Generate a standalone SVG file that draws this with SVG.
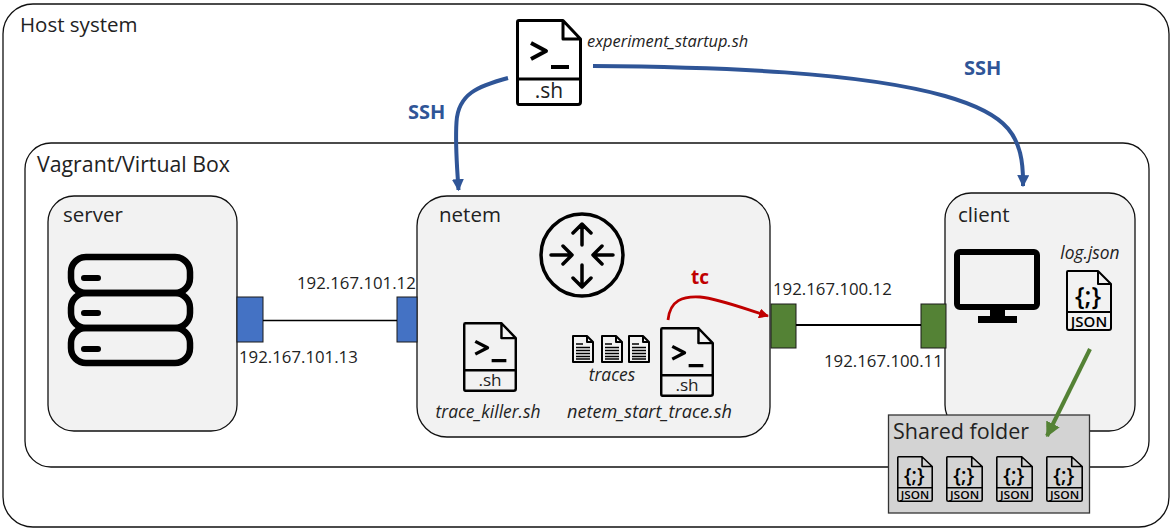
<svg xmlns="http://www.w3.org/2000/svg" width="1172" height="529" viewBox="0 0 1172 529">
<style>
text{font-family:"Open Sans","Noto Sans","Liberation Sans",sans-serif;fill:#222}
.t{font-size:20.5px}.ip{font-size:16.8px}.i{font-style:italic;font-size:17.4px}
.box{stroke:#111;stroke-width:1.3}
.vm{fill:#f2f2f2}
.ln{fill:none;stroke:#000;stroke-linecap:round;stroke-linejoin:round}
.ssh{fill:none;stroke:#2f5597;stroke-width:4}
.lbl{font-size:20px;font-weight:700;fill:#2f5597}
.port{stroke:#1a1a1a;stroke-width:1}
</style>
<defs>
<marker id="ab" markerWidth="12" markerHeight="12" refX="9" refY="5" orient="auto" markerUnits="userSpaceOnUse" viewBox="0 0 10 10"><path d="M0 0L10 5L0 10z" fill="#2f5597"/></marker>
<marker id="ar" markerWidth="10" markerHeight="10" refX="9" refY="5" orient="auto" markerUnits="userSpaceOnUse" viewBox="0 0 10 10"><path d="M0 0L10 5L0 10z" fill="#c00000"/></marker>
<marker id="ag" markerWidth="15" markerHeight="15" refX="9" refY="5" orient="auto" markerUnits="userSpaceOnUse" viewBox="0 0 10 10"><path d="M0 0L10 5L0 10z" fill="#548235"/></marker>
<symbol id="sh" viewBox="0 0 66 87" preserveAspectRatio="none">
<path class="ln" stroke-width="3" d="M3 1.500H47L64.500 20V83Q64.500 85.500 62 85.500H3Q1.500 85.500 1.500 83V3Q1.500 1.500 3 1.500ZM47 1.500V20H64.500M1.500 60H64.500"/>
<path class="ln" stroke-width="4" style="stroke-linecap:butt" d="M15 24L30 32L15 40M35 48H53"/>
<text x="33" y="79" text-anchor="middle" font-size="21">.sh</text>
</symbol>
<symbol id="js" viewBox="0 0 46 61" preserveAspectRatio="none">
<path class="ln" stroke-width="2" d="M2 1H32L45 14V58Q45 60 43 60H3Q1 60 1 58V2Q1 1 2 1ZM32 1V14H45M1 42H45"/>
<text x="22" y="35" text-anchor="middle" font-size="25" font-weight="600" style="fill:#000">{;}</text>
<text x="23" y="57" text-anchor="middle" font-size="15" font-weight="600" style="fill:#000">JSON</text>
</symbol>
<symbol id="doc" viewBox="0 0 22 28" preserveAspectRatio="none">
<path class="ln" stroke-width="2" d="M1 1H15L21 7V27H1ZM15 1V7H21"/>
<path class="ln" stroke-width="1.500" style="stroke-linecap:butt" d="M4 9H11M4 12.500H18M4 15.500H18M4 18.500H18M4 21.500H18M4 24H18"/>
</symbol>
</defs>

<g id="host"><rect x="3" y="4" width="1166" height="523" rx="30" fill="#fff" class="box"/><text class="t" x="20" y="32">Host system</text></g>
<g id="vagrant"><rect x="25" y="143" width="1124" height="324" rx="26" fill="#fff" class="box"/><text class="t" x="37" y="172" style="font-size:21.3px">Vagrant/Virtual Box</text></g>

<g id="server"><rect x="48" y="196" width="189" height="235" rx="26" class="vm box"/><text class="t" x="63" y="222">server</text>
<g fill="none" stroke="#000" stroke-width="6.500"><rect x="71" y="257" width="119" height="36" rx="15"/><rect x="71" y="293" width="119" height="35" rx="15"/><rect x="71" y="328" width="119" height="35" rx="15"/></g>
<path d="M84 278H98M84 313H98M84 349H98" stroke="#000" stroke-width="6" stroke-linecap="round"/>
</g>

<g id="netem"><rect x="417" y="196" width="353" height="241" rx="30" class="vm box"/><text class="t" x="439" y="222">netem</text>
<circle cx="582" cy="255" r="41" fill="none" stroke="#000" stroke-width="3.500"/>
<path class="ln" stroke-width="3.500" d="M582 225V245M573 233L582 224L591 233M582 265V286M573 278L582 287L591 278M551 255H572M563 246L572 255L563 264M613 255H593M602 246L593 255L602 264"/>
<use href="#sh" x="463" y="322" width="54" height="70"/>
<use href="#sh" x="660" y="327" width="54" height="70"/>
<use href="#doc" x="572" y="335" width="22" height="28"/><use href="#doc" x="601" y="335" width="22" height="28"/><use href="#doc" x="628" y="335" width="22" height="28"/>
<text class="i" x="612" y="381" text-anchor="middle">traces</text>
<text class="i" x="488" y="418" text-anchor="middle">trace_killer.sh</text>
<text class="i" x="649.500" y="418" text-anchor="middle" style="font-size:18.100px">netem_start_trace.sh</text>
</g>

<g id="client"><rect x="945" y="193" width="190" height="238" rx="26" class="vm box"/><text class="t" x="958" y="222">client</text>
<rect x="957" y="252" width="80" height="55" rx="3" fill="none" stroke="#000" stroke-width="6"/>
<path d="M990 309H1005V317H990Z" fill="#000"/><rect x="978" y="316" width="39" height="7" fill="#000"/>
<text class="i" x="1090" y="259" text-anchor="middle">log.json</text>
<use href="#js" x="1066" y="270" width="46" height="61"/>
</g>

<g id="port-s"><rect x="237" y="297" width="26" height="45" fill="#4472c4" class="port"/><text class="ip" x="239" y="363">192.167.101.13</text></g>
<g id="port-n1"><rect x="397" y="297" width="20" height="45" fill="#4472c4" class="port"/><text class="ip" x="297" y="289">192.167.101.12</text></g>
<g id="port-n2"><rect x="771" y="304" width="25" height="44" fill="#548235" class="port"/><text class="ip" x="773" y="295">192.167.100.12</text></g>
<g id="port-c"><rect x="921" y="304" width="25" height="44" fill="#548235" class="port"/><text class="ip" x="824" y="367">192.167.100.11</text></g>

<g id="shared"><rect x="888.500" y="415" width="201" height="98" fill="#d3d3d3" stroke="#333" stroke-width="1.300"/><text x="893" y="439" font-size="21.500">Shared folder</text>
<use href="#js" x="897" y="456" width="36" height="46"/><use href="#js" x="946" y="456" width="37" height="46"/><use href="#js" x="996" y="456" width="37" height="46"/><use href="#js" x="1046" y="456" width="37" height="46"/>
</g>

<g id="startup"><use href="#sh" x="516" y="19" width="66" height="87"/><text class="i" x="587" y="47" style="font-size:16.4px">experiment_startup.sh</text></g>

<g id="connectors">
<path d="M263 320.500H397" fill="none" stroke="#000" stroke-width="1.600"/>
<path d="M796 325H921" fill="none" stroke="#000" stroke-width="2"/>
<path class="ssh" marker-end="url(#ab)" d="M508 78C478 86 458 94 456.500 122C455 145 457 165 458.500 190"/>
<path class="ssh" marker-end="url(#ab)" d="M593 66C720 67 860 72 945 96C1008 114 1024 135 1023 186"/>
<path fill="none" stroke="#c00000" stroke-width="2.800" marker-end="url(#ar)" d="M668 320C670 300 683 296 700 297C720 299 745 309 768 316"/>
<path fill="none" stroke="#548235" stroke-width="4" marker-end="url(#ag)" d="M1090 349L1047 436"/>
</g>
<g id="labels"><text class="lbl" x="408" y="119">SSH</text><text class="lbl" x="964" y="75">SSH</text><text x="691" y="284" font-size="19" font-weight="700" style="fill:#c00000">tc</text></g>
</svg>
